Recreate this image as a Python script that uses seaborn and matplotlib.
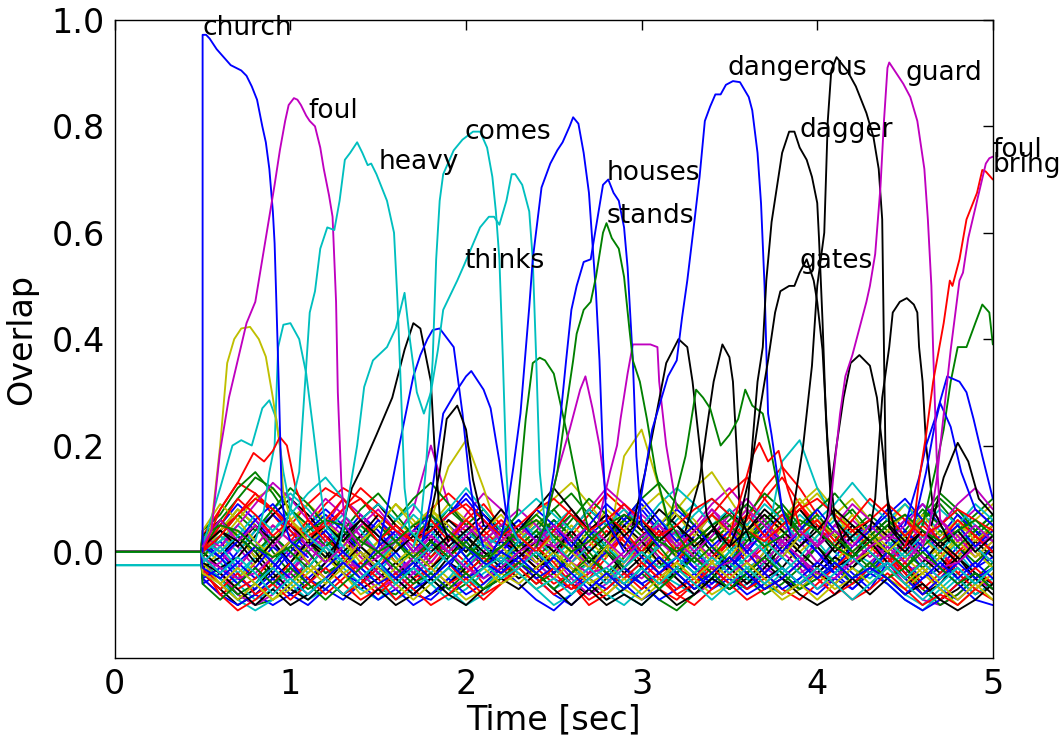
import matplotlib
matplotlib.use("Agg")
import matplotlib.pyplot as plt
import seaborn as sns

# ---------------- data ----------------
# background time grid: pre-stimulus segment then 0.1 s steps
bg_t = [0.0, 0.49, 0.5, 0.6, 0.7, 0.8, 0.9, 1.0, 1.1, 1.2, 1.3, 1.4, 1.5, 1.6, 1.7, 1.8, 1.9,
        2.0, 2.1, 2.2, 2.3, 2.4, 2.5, 2.6, 2.7, 2.8, 2.9, 3.0, 3.1, 3.2, 3.3, 3.4, 3.5, 3.6,
        3.7, 3.8, 3.9, 4.0, 4.1, 4.2, 4.3, 4.4, 4.5, 4.6, 4.7, 4.8, 4.9, 5.0]

bg01 = [0.01, 0.05, 0.09, 0.06, 0.02, -0.03, -0.05, -0.02, 0.03, 0.07, 0.04, 0.00, -0.04, -0.06, -0.03, 0.02, 0.05, 0.03, 0.00, -0.02, -0.05, -0.07, -0.04, 0.01, 0.06, 0.09, 0.05, 0.01, -0.03, -0.05, -0.02, 0.03, 0.06, 0.02, -0.02, -0.04, -0.01, 0.03, 0.05, 0.02, -0.02, -0.05, -0.03, 0.01, 0.04, 0.02]
bg02 = [-0.02, -0.05, -0.08, -0.10, -0.09, -0.06, -0.02, 0.02, 0.00, -0.04, -0.07, -0.08, -0.05, -0.01, 0.03, 0.01, -0.03, -0.01, 0.02, 0.05, 0.08, 0.04, 0.00, -0.04, -0.06, -0.03, 0.01, 0.04, 0.02, -0.02, -0.05, -0.07, -0.04, 0.00, 0.03, 0.06, 0.03, -0.01, -0.04, -0.02, 0.02, 0.06, 0.09, 0.05, 0.01, -0.03]
bg03 = [0.03, 0.08, 0.13, 0.11, 0.07, 0.03, 0.05, 0.09, 0.12, 0.10, 0.06, 0.02, -0.01, 0.02, 0.06, 0.04, 0.01, 0.03, 0.00, -0.03, -0.01, 0.03, 0.07, 0.11, 0.08, 0.04, 0.00, -0.03, -0.05, -0.02, 0.02, 0.05, 0.10, 0.14, 0.09, 0.04, 0.01, -0.02, 0.01, 0.04, 0.07, 0.03, -0.01, -0.04, -0.02, 0.01]
bg04 = [-0.04, -0.07, -0.05, -0.01, 0.04, 0.08, 0.05, 0.01, -0.03, -0.06, -0.04, 0.00, 0.04, 0.02, -0.02, -0.05, -0.07, -0.03, 0.01, 0.04, 0.02, -0.02, -0.06, -0.09, -0.07, -0.03, 0.02, 0.06, 0.09, 0.05, 0.00, -0.03, -0.01, 0.03, 0.07, 0.04, 0.00, -0.03, -0.05, -0.02, 0.03, 0.07, 0.04, 0.00, -0.04, -0.06]
bg05 = [0.00, 0.03, 0.01, -0.03, -0.06, -0.04, 0.01, 0.05, 0.10, 0.07, 0.03, -0.01, -0.04, -0.02, 0.02, 0.07, 0.11, 0.08, 0.03, 0.00, 0.03, 0.07, 0.05, 0.01, -0.03, -0.05, -0.02, 0.02, 0.05, 0.09, 0.12, 0.08, 0.03, -0.01, -0.04, -0.02, 0.02, 0.06, 0.03, -0.01, -0.04, -0.02, 0.02, 0.05, 0.08, 0.05]
bg06 = [-0.01, 0.02, 0.06, 0.10, 0.12, 0.08, 0.04, 0.00, -0.03, 0.01, 0.05, 0.09, 0.06, 0.02, -0.02, -0.05, -0.03, 0.01, 0.03, 0.07, 0.10, 0.13, 0.09, 0.05, 0.02, -0.01, 0.03, 0.08, 0.12, 0.15, 0.10, 0.05, 0.01, 0.04, 0.08, 0.11, 0.07, 0.03, 0.01, 0.04, 0.02, -0.02, 0.01, 0.05, 0.03, 0.00]
bg07 = [-0.03, -0.06, -0.09, -0.07, -0.03, 0.01, -0.02, -0.05, -0.08, -0.06, -0.02, 0.02, 0.05, 0.02, -0.02, -0.04, -0.01, 0.01, 0.04, 0.01, -0.03, -0.06, -0.08, -0.05, -0.01, 0.03, 0.06, 0.03, -0.01, -0.04, -0.07, -0.05, -0.02, 0.02, -0.01, -0.04, -0.06, -0.03, 0.01, 0.00, -0.04, -0.08, -0.06, -0.02, 0.02, -0.01]
bg08 = [0.02, 0.00, -0.04, -0.08, -0.10, -0.08, -0.05, -0.07, -0.09, -0.06, -0.03, -0.05, -0.08, -0.09, -0.06, -0.02, 0.01, 0.00, -0.02, -0.05, -0.08, -0.10, -0.07, -0.04, -0.06, -0.09, -0.07, -0.03, 0.00, -0.03, -0.06, -0.04, 0.00, -0.03, -0.06, -0.04, -0.01, -0.04, -0.07, -0.02, 0.01, -0.03, -0.07, -0.09, -0.06, -0.03]
bg09 = [0.04, 0.07, 0.12, 0.15, 0.11, 0.06, 0.02, -0.02, 0.01, 0.05, 0.02, -0.02, 0.00, 0.04, 0.08, 0.05, 0.01, -0.02, 0.01, 0.04, 0.00, -0.04, -0.02, 0.02, 0.06, 0.03, -0.01, -0.04, -0.01, 0.03, 0.06, 0.09, 0.06, 0.02, -0.02, 0.01, 0.05, 0.08, 0.04, 0.00, 0.03, 0.06, 0.10, 0.07, 0.03, 0.06]
bg10 = [-0.05, -0.08, -0.06, -0.02, 0.02, 0.05, 0.09, 0.12, 0.10, 0.06, 0.02, -0.02, -0.05, -0.03, 0.01, -0.02, -0.06, -0.03, 0.00, -0.03, -0.06, -0.04, 0.00, 0.04, 0.01, -0.03, -0.07, -0.09, -0.06, -0.02, 0.02, 0.06, 0.12, 0.16, 0.12, 0.07, 0.03, -0.01, -0.04, -0.01, -0.05, -0.08, -0.05, -0.01, 0.03, 0.00]
bg11 = [0.01, -0.02, -0.06, -0.09, -0.07, -0.03, 0.01, 0.04, 0.01, -0.03, -0.06, -0.09, -0.07, -0.04, -0.07, -0.10, -0.08, -0.04, -0.01, -0.04, -0.07, -0.05, -0.02, -0.05, -0.08, -0.10, -0.07, -0.03, 0.01, 0.04, 0.01, -0.03, -0.06, -0.08, -0.05, -0.02, 0.02, 0.00, -0.02, -0.05, -0.08, -0.10, -0.07, -0.04, -0.07, -0.05]
bg12 = [-0.02, 0.01, 0.04, 0.02, -0.02, -0.05, -0.02, 0.02, 0.06, 0.03, -0.01, 0.03, 0.08, 0.20, 0.09, 0.05, 0.02, 0.00, 0.03, 0.06, 0.03, 0.00, -0.03, 0.00, 0.04, 0.07, 0.04, 0.00, -0.03, 0.00, 0.04, 0.01, -0.03, -0.05, -0.02, 0.02, 0.05, 0.02, -0.01, 0.02, 0.06, 0.04, 0.00, -0.03, -0.06, -0.03]
bg13 = [0.00, -0.03, -0.05, -0.02, 0.02, 0.06, 0.03, -0.01, -0.04, -0.02, 0.02, 0.05, 0.02, -0.02, -0.05, -0.03, 0.01, 0.04, 0.02, 0.06, 0.04, 0.00, 0.03, 0.08, 0.05, 0.01, -0.02, 0.02, 0.05, 0.02, -0.02, -0.04, 0.00, 0.05, 0.09, 0.12, 0.08, 0.04, 0.02, 0.05, 0.09, 0.06, 0.02, -0.01, 0.02, 0.04]
bg14 = [0.03, 0.06, 0.03, -0.01, -0.05, -0.08, -0.06, -0.02, 0.03, 0.00, -0.04, -0.06, -0.03, 0.02, 0.06, 0.03, -0.01, 0.02, 0.00, -0.03, -0.01, 0.04, 0.08, 0.05, 0.01, -0.03, -0.06, -0.04, 0.00, 0.04, 0.02, -0.02, -0.05, -0.03, 0.01, 0.05, 0.03, -0.01, 0.02, 0.00, -0.03, -0.06, -0.09, -0.07, -0.04, -0.06]
bg15 = [-0.06, -0.04, 0.00, 0.04, 0.07, 0.04, 0.00, -0.04, -0.02, 0.02, 0.06, 0.03, -0.01, 0.03, 0.07, 0.10, 0.06, 0.02, -0.01, 0.02, 0.06, 0.03, -0.02, -0.05, -0.02, 0.02, 0.05, 0.08, 0.05, 0.01, -0.03, 0.00, 0.04, 0.07, 0.04, 0.00, -0.03, -0.06, -0.03, 0.02, 0.06, 0.09, 0.05, 0.01, -0.03, -0.01]
bg16 = [0.01, 0.04, 0.08, 0.05, 0.00, -0.04, -0.07, -0.05, -0.01, 0.03, 0.00, -0.04, -0.02, 0.02, 0.00, -0.04, -0.07, -0.04, 0.00, 0.03, 0.06, 0.03, -0.01, -0.04, -0.01, 0.03, 0.01, -0.03, -0.06, -0.04, 0.00, 0.04, 0.01, -0.03, -0.06, -0.03, 0.01, 0.04, 0.07, 0.04, 0.00, -0.03, 0.00, 0.04, 0.07, 0.10]
bg17 = [-0.03, -0.06, -0.03, 0.01, 0.05, 0.02, -0.02, -0.05, -0.08, -0.06, -0.03, 0.01, 0.04, 0.08, 0.11, 0.08, 0.04, 0.01, 0.03, 0.00, -0.04, -0.07, -0.05, -0.01, 0.03, 0.00, -0.04, -0.02, 0.02, 0.05, 0.02, -0.02, 0.01, 0.05, 0.08, 0.05, 0.01, -0.02, 0.00, -0.03, -0.01, 0.03, 0.00, -0.04, -0.07, -0.04]
bg18 = [0.02, -0.01, -0.04, -0.01, 0.03, 0.00, -0.04, -0.01, 0.03, 0.06, 0.03, -0.01, -0.05, -0.08, -0.05, -0.01, 0.03, 0.01, -0.02, 0.01, 0.05, 0.08, 0.04, 0.00, -0.03, 0.01, 0.05, 0.02, -0.02, -0.05, -0.08, -0.06, -0.02, 0.02, 0.05, 0.02, -0.02, -0.05, -0.02, 0.01, 0.04, 0.01, -0.02, 0.02, 0.05, 0.02]
bg19 = [-0.01, -0.04, -0.08, -0.10, -0.08, -0.04, 0.00, 0.03, 0.00, -0.04, -0.07, -0.05, -0.01, -0.04, -0.07, -0.05, -0.02, -0.04, -0.01, 0.02, -0.01, -0.05, -0.08, -0.06, -0.02, 0.02, -0.01, -0.05, -0.08, -0.06, -0.03, -0.06, -0.04, 0.00, -0.03, -0.07, -0.05, -0.01, -0.04, -0.02, -0.06, -0.09, -0.10, -0.08, -0.05, -0.07]
bg20 = [0.02, 0.05, 0.03, -0.01, 0.02, 0.06, 0.09, 0.06, 0.02, -0.01, 0.02, 0.06, 0.03, 0.06, 0.16, 0.21, 0.12, 0.02, 0.04, 0.01, -0.02, 0.01, 0.05, 0.02, -0.02, 0.01, 0.05, 0.09, 0.06, 0.02, 0.05, 0.08, 0.05, 0.01, -0.02, -0.05, -0.02, 0.02, 0.04, 0.01, -0.02, 0.02, 0.06, 0.03, 0.06, 0.09]
bg21 = [-0.04, -0.07, -0.10, -0.08, -0.05, -0.02, 0.02, 0.00, -0.04, -0.07, -0.05, -0.02, -0.05, -0.08, -0.06, -0.03, 0.00, -0.02, -0.05, -0.03, 0.00, -0.03, -0.06, -0.09, -0.07, -0.04, -0.01, -0.04, -0.07, -0.05, -0.02, 0.01, -0.02, -0.05, -0.07, -0.04, -0.01, -0.03, 0.00, -0.03, -0.06, -0.04, -0.01, -0.05, -0.08, -0.06]
bg22 = [0.00, 0.02, -0.02, -0.05, -0.03, 0.01, 0.05, 0.08, 0.05, 0.01, -0.02, -0.05, -0.03, 0.01, 0.05, 0.02, -0.02, 0.00, 0.04, 0.08, 0.05, 0.01, -0.03, 0.01, 0.05, 0.08, 0.04, 0.00, -0.03, -0.06, -0.03, 0.01, 0.05, 0.02, -0.02, -0.05, -0.03, 0.01, 0.04, 0.08, 0.04, 0.00, 0.03, 0.07, 0.04, 0.00]
bg23 = [-0.02, -0.05, -0.08, -0.06, -0.02, 0.02, 0.00, -0.04, -0.02, 0.02, 0.05, 0.02, -0.02, -0.05, -0.08, -0.06, -0.03, 0.00, -0.03, -0.06, -0.04, 0.00, 0.04, 0.01, -0.03, -0.06, -0.09, -0.11, -0.08, -0.05, -0.02, -0.05, -0.08, -0.06, -0.03, 0.01, -0.02, -0.06, -0.04, 0.00, -0.03, -0.07, -0.10, -0.08, -0.05, -0.02]
bg24 = [0.01, 0.04, 0.07, 0.11, 0.08, 0.04, 0.01, 0.04, 0.08, 0.12, 0.09, 0.05, 0.02, -0.01, 0.02, 0.06, 0.09, 0.05, 0.02, 0.05, 0.02, -0.02, 0.01, 0.05, 0.02, -0.02, -0.05, -0.02, 0.03, 0.07, 0.11, 0.14, 0.10, 0.06, 0.09, 0.05, 0.01, 0.04, 0.01, -0.02, 0.01, 0.05, 0.02, -0.02, 0.01, 0.05]
bg25 = [-0.02, -0.05, -0.09, -0.11, -0.09, -0.06, -0.09, -0.07, -0.04, -0.07, -0.09, -0.06, -0.03, -0.06, -0.09, -0.07, -0.04, -0.02, -0.04, -0.07, -0.10, -0.08, -0.05, -0.08, -0.10, -0.07, -0.04, -0.06, -0.08, -0.05, -0.02, -0.05, -0.07, -0.04, -0.07, -0.05, -0.02, -0.05, -0.03, -0.06, -0.09, -0.11, -0.08, -0.05, -0.08, -0.06]
bg26 = [0.03, 0.00, -0.03, 0.01, 0.05, 0.02, -0.02, -0.05, -0.02, 0.02, 0.00, -0.04, -0.01, 0.03, 0.00, -0.03, 0.00, 0.04, 0.02, -0.02, -0.05, -0.02, 0.02, 0.05, 0.09, 0.06, 0.02, -0.01, 0.02, -0.01, -0.04, -0.02, 0.02, 0.05, 0.02, -0.02, 0.01, 0.05, 0.02, -0.01, 0.02, -0.02, -0.05, -0.02, 0.01, -0.02]
bg27 = [-0.03, 0.00, 0.04, 0.01, -0.03, -0.06, -0.03, 0.01, 0.04, 0.01, -0.02, 0.01, 0.05, 0.08, 0.05, 0.01, -0.02, 0.01, -0.02, -0.05, -0.03, 0.01, -0.02, -0.05, -0.02, 0.02, 0.06, 0.03, -0.01, -0.04, -0.01, 0.03, 0.07, 0.04, 0.00, 0.03, 0.07, 0.10, 0.06, 0.02, -0.01, -0.04, -0.01, 0.03, 0.00, -0.03]
bg28 = [0.00, -0.03, -0.01, 0.03, 0.07, 0.10, 0.07, 0.03, 0.00, 0.03, 0.07, 0.04, 0.00, -0.03, 0.00, 0.04, 0.01, -0.02, 0.02, -0.01, -0.04, -0.01, 0.03, 0.00, -0.04, -0.01, 0.03, 0.07, 0.04, 0.00, -0.03, -0.06, -0.03, 0.01, 0.04, 0.01, -0.03, -0.01, 0.03, 0.06, 0.03, -0.01, -0.04, -0.01, -0.04, -0.07]
bg29 = [-0.05, -0.08, -0.10, -0.08, -0.05, -0.08, -0.10, -0.07, -0.04, -0.06, -0.09, -0.07, -0.10, -0.08, -0.05, -0.08, -0.06, -0.03, -0.06, -0.09, -0.11, -0.08, -0.05, -0.07, -0.04, -0.06, -0.09, -0.07, -0.04, -0.07, -0.05, -0.08, -0.06, -0.03, -0.06, -0.08, -0.05, -0.07, -0.04, -0.06, -0.09, -0.11, -0.09, -0.06, -0.09, -0.10]
bg30 = [0.02, 0.06, 0.10, 0.14, 0.12, 0.08, 0.05, 0.01, 0.04, 0.08, 0.11, 0.07, 0.03, 0.06, 0.03, -0.01, 0.02, 0.05, 0.02, -0.01, 0.02, 0.06, 0.10, 0.07, 0.03, 0.00, 0.03, -0.01, -0.04, -0.01, 0.03, 0.07, 0.11, 0.08, 0.04, 0.01, 0.04, 0.00, -0.03, 0.00, 0.04, 0.08, 0.05, 0.01, -0.02, 0.01]
bg31 = [-0.01, -0.04, -0.07, -0.05, -0.01, 0.02, 0.06, 0.03, -0.01, -0.05, -0.08, -0.05, -0.02, 0.01, -0.02, -0.06, -0.09, -0.06, -0.02, 0.01, -0.02, -0.06, -0.04, 0.00, 0.03, -0.01, -0.04, -0.07, -0.05, -0.01, 0.02, 0.00, -0.04, -0.07, -0.09, -0.06, -0.03, 0.00, 0.03, 0.00, -0.04, -0.07, -0.04, 0.00, 0.03, 0.00]
bg32 = [0.01, 0.03, 0.00, 0.04, 0.08, 0.11, 0.08, 0.04, 0.07, 0.04, 0.00, 0.03, 0.07, 0.04, 0.00, -0.03, 0.01, 0.03, 0.06, 0.03, -0.01, 0.02, 0.05, 0.01, -0.02, 0.02, 0.06, 0.03, 0.07, 0.10, 0.07, 0.03, 0.00, 0.17, 0.21, 0.12, 0.06, 0.02, 0.05, 0.02, -0.01, 0.02, 0.05, 0.08, 0.05, 0.02]
bg33 = [-0.04, -0.02, 0.02, 0.06, 0.03, -0.01, 0.02, 0.06, 0.03, -0.01, -0.04, -0.07, -0.04, 0.00, 0.03, 0.06, 0.03, -0.01, -0.03, 0.01, 0.04, 0.01, -0.03, -0.06, -0.03, 0.01, 0.04, 0.01, 0.04, 0.08, 0.05, 0.01, -0.02, 0.02, -0.01, -0.05, -0.08, -0.05, -0.02, 0.01, -0.02, 0.02, 0.06, 0.03, -0.01, 0.02]
bg34 = [0.00, 0.04, 0.08, 0.05, 0.01, -0.02, 0.01, 0.05, 0.02, -0.02, 0.01, -0.02, 0.01, 0.05, 0.09, 0.06, 0.02, -0.01, 0.01, -0.02, 0.01, 0.05, 0.02, -0.01, 0.18, 0.23, 0.12, -0.01, 0.02, -0.02, 0.01, 0.05, 0.02, 0.06, 0.10, 0.06, 0.02, -0.02, 0.00, 0.04, 0.07, 0.03, -0.01, 0.02, -0.01, 0.02]
bg35 = [-0.03, -0.01, 0.03, 0.00, -0.04, -0.07, -0.09, -0.06, -0.02, 0.01, -0.02, -0.05, -0.08, -0.05, -0.01, 0.03, 0.00, -0.03, -0.01, 0.02, 0.05, 0.02, -0.02, 0.01, 0.05, 0.02, -0.02, -0.05, -0.08, -0.05, -0.01, -0.04, -0.01, 0.03, 0.00, -0.03, 0.01, 0.05, 0.02, -0.02, -0.05, -0.02, 0.02, -0.01, -0.05, -0.08]
bg36 = [0.02, -0.01, -0.05, -0.07, -0.04, 0.00, 0.04, 0.07, 0.04, 0.00, -0.03, 0.00, 0.04, 0.07, 0.03, -0.01, -0.05, -0.02, 0.02, 0.00, -0.04, -0.01, 0.03, 0.06, 0.03, -0.01, -0.04, -0.01, 0.03, 0.07, 0.04, 0.00, -0.04, -0.01, 0.03, 0.00, -0.04, -0.07, -0.04, 0.00, 0.04, 0.01, -0.03, -0.06, -0.03, 0.01]
bg37 = [-0.01, 0.03, 0.07, 0.04, 0.08, 0.12, 0.09, 0.05, 0.02, 0.05, 0.02, 0.06, 0.10, 0.13, 0.09, 0.05, 0.08, 0.04, 0.01, 0.04, 0.08, 0.11, 0.07, 0.03, 0.06, 0.10, 0.13, 0.09, 0.05, 0.02, 0.05, 0.02, 0.06, 0.09, 0.05, 0.08, 0.11, 0.07, 0.03, 0.06, 0.03, 0.07, 0.11, 0.08, 0.04, 0.07]
bg38 = [-0.04, -0.07, -0.04, -0.08, -0.06, -0.02, -0.05, -0.08, -0.05, -0.02, -0.05, -0.09, -0.06, -0.03, -0.06, -0.04, -0.01, -0.04, -0.02, -0.05, -0.08, -0.06, -0.09, -0.07, -0.04, -0.07, -0.04, -0.08, -0.06, -0.03, -0.06, -0.09, -0.07, -0.05, -0.02, -0.05, -0.08, -0.06, -0.03, -0.05, -0.02, -0.06, -0.09, -0.06, -0.03, -0.06]
bg39 = [0.00, 0.02, 0.05, 0.02, -0.02, 0.01, 0.05, 0.02, -0.02, -0.05, -0.02, 0.02, -0.01, -0.04, 0.00, 0.04, 0.01, -0.02, 0.02, 0.05, 0.02, -0.02, 0.01, -0.02, -0.05, -0.02, 0.01, 0.04, 0.01, -0.03, 0.00, 0.03, 0.00, -0.04, -0.01, 0.03, 0.06, 0.03, 0.00, -0.03, 0.00, 0.03, 0.00, 0.04, 0.01, -0.02]
bg40 = [0.03, 0.01, 0.05, 0.09, 0.13, 0.10, 0.06, 0.10, 0.07, 0.03, 0.00, 0.04, 0.01, -0.02, 0.02, 0.05, 0.02, 0.05, 0.08, 0.05, 0.01, 0.04, 0.08, 0.12, 0.09, 0.05, 0.01, 0.04, 0.00, 0.03, 0.07, 0.10, 0.06, 0.02, 0.05, 0.01, 0.05, 0.09, 0.06, 0.03, 0.06, 0.02, 0.05, 0.09, 0.12, 0.08]
bg41 = [-0.02, -0.06, -0.09, -0.06, -0.09, -0.07, -0.04, -0.01, -0.04, -0.08, -0.06, -0.03, 0.00, -0.03, -0.06, -0.09, -0.07, -0.04, -0.06, -0.03, 0.00, -0.03, -0.06, -0.04, -0.07, -0.09, -0.06, -0.02, -0.05, -0.08, -0.06, -0.03, -0.06, -0.09, -0.07, -0.04, -0.07, -0.05, -0.02, -0.05, -0.07, -0.04, -0.07, -0.10, -0.07, -0.04]
bg42 = [0.01, 0.04, 0.01, 0.05, 0.02, -0.02, 0.02, -0.01, 0.03, 0.06, 0.09, 0.05, 0.02, 0.05, 0.01, 0.04, 0.07, 0.04, 0.00, 0.03, 0.00, 0.04, 0.00, 0.03, 0.07, 0.04, 0.08, 0.05, 0.01, 0.04, 0.08, 0.04, 0.07, 0.04, 0.01, 0.04, 0.00, 0.03, 0.06, 0.03, 0.00, 0.04, 0.01, -0.02, 0.02, 0.05]
bg43 = [-0.05, -0.03, -0.06, -0.03, 0.01, -0.02, -0.06, -0.03, 0.00, -0.03, -0.06, -0.04, -0.07, -0.05, -0.02, -0.05, -0.03, 0.00, -0.02, -0.05, -0.03, -0.06, -0.03, 0.00, -0.03, -0.06, -0.04, -0.01, -0.04, -0.07, -0.04, -0.07, -0.04, -0.07, -0.05, -0.02, -0.04, -0.01, -0.04, -0.02, -0.05, -0.08, -0.05, -0.02, -0.05, -0.03]
bg44 = [0.00, 0.06, 0.03, 0.00, 0.03, 0.00, -0.03, 0.01, 0.04, 0.01, 0.05, 0.02, -0.01, 0.02, -0.01, 0.02, -0.02, 0.01, 0.04, 0.07, 0.04, 0.07, 0.03, 0.00, -0.03, 0.00, -0.03, 0.01, -0.02, 0.01, -0.02, 0.02, 0.05, 0.08, 0.04, 0.07, 0.03, 0.00, 0.03, 0.00, -0.03, 0.01, 0.04, 0.01, 0.04, 0.07]
bg45 = [-0.03, -0.08, -0.11, -0.09, -0.06, -0.09, -0.06, -0.03, -0.06, -0.09, -0.07, -0.04, -0.07, -0.10, -0.08, -0.05, -0.08, -0.06, -0.03, -0.06, -0.03, -0.06, -0.10, -0.08, -0.05, -0.02, -0.05, -0.08, -0.10, -0.07, -0.04, -0.07, -0.05, -0.08, -0.06, -0.03, -0.06, -0.09, -0.07, -0.04, -0.07, -0.10, -0.08, -0.10, -0.07, -0.09]
bg46 = [0.02, 0.00, 0.03, 0.07, 0.04, 0.07, 0.11, 0.14, 0.10, 0.06, 0.09, 0.06, 0.09, 0.05, 0.08, 0.12, 0.08, 0.04, 0.07, 0.10, 0.07, 0.04, 0.08, 0.05, 0.08, 0.05, 0.09, 0.12, 0.09, 0.05, 0.08, 0.05, 0.09, 0.06, 0.02, 0.06, 0.09, 0.13, 0.09, 0.06, 0.09, 0.05, 0.08, 0.05, 0.09, 0.06]
bg47 = [-0.01, -0.03, -0.05, -0.04, -0.01, 0.02, 0.03, 0.01, -0.02, -0.03, -0.01, 0.02, 0.04, 0.03, 0.00, -0.03, -0.05, -0.03, 0.00, 0.02, 0.01, -0.02, -0.04, -0.03, 0.00, 0.03, 0.05, 0.02, -0.01, -0.03, -0.02, 0.01, 0.03, 0.02, -0.01, -0.04, -0.05, -0.02, 0.01, 0.03, 0.02, -0.01, -0.03, -0.02, 0.01, 0.03]
bg48 = [0.04, 0.09, 0.06, 0.02, -0.01, 0.02, -0.02, -0.05, -0.02, 0.02, 0.05, 0.09, 0.05, 0.08, 0.04, 0.00, 0.04, 0.07, 0.03, 0.00, 0.03, 0.00, -0.03, 0.01, 0.04, 0.08, 0.11, 0.07, 0.03, 0.07, 0.03, -0.01, 0.02, -0.01, 0.03, 0.06, 0.03, 0.07, 0.03, 0.00, 0.03, 0.07, 0.03, 0.06, 0.02, 0.05]
bg49 = [-0.02, -0.04, -0.07, -0.10, -0.07, -0.10, -0.08, -0.05, -0.08, -0.10, -0.07, -0.10, -0.08, -0.05, -0.08, -0.10, -0.07, -0.05, -0.07, -0.04, -0.07, -0.10, -0.07, -0.10, -0.08, -0.10, -0.07, -0.10, -0.08, -0.05, -0.07, -0.04, -0.07, -0.05, -0.08, -0.10, -0.08, -0.05, -0.08, -0.05, -0.08, -0.06, -0.09, -0.11, -0.09, -0.06]
bg50 = [0.01, -0.01, 0.02, 0.06, 0.09, 0.05, 0.01, 0.04, 0.00, -0.03, 0.01, 0.04, 0.00, 0.04, 0.07, 0.11, 0.07, 0.03, 0.06, 0.02, 0.05, 0.01, 0.05, 0.09, 0.06, 0.10, 0.06, 0.02, 0.05, 0.01, 0.04, 0.00, 0.04, 0.00, 0.04, 0.08, 0.04, 0.01, 0.04, 0.07, 0.10, 0.06, 0.02, 0.05, 0.01, 0.04]
bg51 = [-0.06, -0.09, -0.06, -0.03, -0.06, -0.03, -0.06, -0.09, -0.06, -0.03, 0.00, -0.03, -0.06, -0.04, -0.07, -0.04, -0.07, -0.05, -0.02, -0.04, -0.07, -0.04, -0.01, -0.04, -0.07, -0.04, -0.07, -0.04, -0.01, -0.04, -0.07, -0.04, -0.01, -0.04, -0.07, -0.05, -0.02, -0.05, -0.02, -0.05, -0.03, 0.00, -0.03, -0.06, -0.04, -0.07]
bg52 = [0.00, 0.05, 0.10, 0.07, 0.03, 0.06, 0.02, 0.06, 0.10, 0.06, 0.02, 0.05, 0.02, 0.06, 0.02, 0.06, 0.03, 0.06, 0.03, 0.00, 0.04, 0.08, 0.04, 0.07, 0.04, 0.00, 0.04, 0.00, 0.04, 0.07, 0.04, 0.07, 0.03, 0.07, 0.03, 0.06, 0.02, 0.06, 0.10, 0.07, 0.03, 0.06, 0.02, 0.06, 0.03, 0.00]
bg53 = [-0.02, 0.01, -0.03, -0.06, -0.03, -0.06, -0.03, 0.01, -0.02, -0.05, -0.02, -0.05, -0.02, 0.01, -0.02, 0.01, -0.02, -0.05, -0.03, 0.00, -0.03, -0.06, -0.03, -0.06, -0.03, 0.00, -0.03, -0.01, -0.04, -0.01, -0.04, -0.01, 0.02, -0.01, -0.04, -0.07, -0.04, -0.01, -0.04, -0.02, -0.05, -0.02, -0.05, -0.03, -0.06, -0.03]
bg54 = [0.02, 0.06, 0.02, 0.05, 0.01, 0.05, 0.01, -0.02, 0.01, 0.05, 0.08, 0.04, 0.00, 0.03, 0.00, 0.03, 0.06, 0.02, 0.05, 0.02, 0.05, 0.02, 0.05, 0.02, -0.01, 0.02, 0.05, 0.01, 0.04, 0.08, 0.04, 0.08, 0.05, 0.01, 0.04, 0.01, 0.04, 0.01, 0.05, 0.02, 0.05, 0.09, 0.06, 0.02, 0.05, 0.02]
bg55 = [-0.04, -0.06, -0.03, -0.06, -0.09, -0.06, -0.03, -0.06, -0.03, 0.00, -0.03, -0.06, -0.09, -0.06, -0.03, -0.06, -0.03, -0.06, -0.04, -0.07, -0.05, -0.02, -0.05, -0.08, -0.05, -0.08, -0.05, -0.02, -0.05, -0.02, -0.05, -0.02, -0.05, -0.08, -0.06, -0.09, -0.06, -0.03, -0.06, -0.03, -0.06, -0.03, -0.06, -0.09, -0.06, -0.09]
bg56 = [0.01, 0.04, 0.02, -0.02, 0.02, 0.05, 0.02, 0.05, 0.02, 0.06, 0.03, 0.00, 0.03, 0.00, 0.03, 0.00, 0.04, 0.08, 0.04, 0.08, 0.12, 0.08, 0.04, 0.07, 0.03, 0.06, 0.02, 0.05, 0.02, 0.05, 0.01, 0.04, 0.08, 0.05, 0.08, 0.04, 0.08, 0.05, 0.02, 0.05, 0.01, 0.04, 0.01, 0.04, 0.00, 0.03]
bg57 = [-0.03, -0.05, -0.02, 0.01, -0.02, -0.05, -0.08, -0.05, -0.02, -0.05, -0.02, -0.05, -0.02, -0.05, -0.02, 0.01, -0.02, -0.04, -0.01, -0.04, -0.01, -0.04, -0.07, -0.04, -0.07, -0.04, -0.01, -0.04, -0.07, -0.04, -0.01, -0.04, -0.07, -0.05, -0.02, -0.05, -0.02, -0.05, -0.03, -0.05, -0.08, -0.05, -0.02, -0.05, -0.02, -0.05]
bg58 = [0.00, 0.03, 0.07, 0.10, 0.08, 0.05, 0.03, 0.05, 0.08, 0.10, 0.07, 0.04, 0.02, 0.04, 0.07, 0.09, 0.06, 0.03, 0.05, 0.08, 0.10, 0.07, 0.04, 0.06, 0.09, 0.06, 0.03, 0.05, 0.08, 0.10, 0.07, 0.04, 0.02, 0.05, 0.08, 0.10, 0.07, 0.04, 0.06, 0.09, 0.06, 0.03, 0.05, 0.08, 0.06, 0.04]
bg59 = [-0.01, -0.04, -0.01, -0.04, -0.08, -0.05, -0.08, -0.05, -0.08, -0.05, -0.02, -0.06, -0.03, -0.06, -0.03, -0.06, -0.03, -0.01, -0.04, -0.07, -0.05, -0.08, -0.05, -0.03, -0.06, -0.03, -0.06, -0.03, -0.06, -0.09, -0.06, -0.03, -0.06, -0.03, -0.06, -0.03, -0.06, -0.09, -0.06, -0.03, -0.06, -0.09, -0.06, -0.03, -0.06, -0.03]
bg60 = [0.03, 0.05, 0.04, 0.01, -0.01, 0.01, 0.04, 0.06, 0.05, 0.02, 0.00, 0.02, 0.05, 0.07, 0.04, 0.01, -0.01, 0.01, 0.04, 0.06, 0.03, 0.00, 0.02, 0.05, 0.07, 0.05, 0.02, 0.00, 0.02, 0.05, 0.07, 0.04, 0.01, 0.03, 0.06, 0.04, 0.01, -0.01, 0.02, 0.05, 0.07, 0.04, 0.02, 0.04, 0.06, 0.03]

background = [bg01, bg02, bg03, bg04, bg05, bg06, bg07, bg08, bg09, bg10, bg11, bg12,
              bg13, bg14, bg15, bg16, bg17, bg18, bg19, bg20, bg21, bg22, bg23, bg24,
              bg25, bg26, bg27, bg28, bg29, bg30, bg31, bg32, bg33, bg34, bg35, bg36,
              bg37, bg38, bg39, bg40, bg41, bg42, bg43, bg44, bg45, bg46, bg47, bg48,
              bg49, bg50, bg51, bg52, bg53, bg54, bg55, bg56, bg57, bg58, bg59, bg60]
bg_pre = [0.0, 0.0, 0.0, -0.025, 0.0, 0.0, 0.0, 0.0, 0.0, 0.0, -0.025, 0.0,
          0.0, 0.0, 0.0, 0.0, 0.0, 0.0, 0.0, 0.0, 0.0, 0.0, 0.0, 0.0,
          -0.025, 0.0, 0.0, 0.0, 0.0, 0.0, 0.0, 0.0, 0.0, 0.0, 0.0, 0.0,
          0.0, 0.0, 0.0, 0.0, 0.0, 0.0, 0.0, 0.0, 0.0, 0.0, 0.0, 0.0,
          0.0, 0.0, 0.0, 0.0, 0.0, 0.0, 0.0, 0.0, 0.0, 0.0, 0.0, 0.0]
bg_colors = ["b", "g", "r", "c", "m", "y", "k"] * 8 + ["b", "r", "c", "g"]

# medium bumps (unlabelled words)
cyan43_t = [0.80, 0.85, 0.88, 0.91, 0.93, 0.96, 1.00, 1.05, 1.09, 1.13, 1.17, 1.20, 1.30]
cyan43_v = [0.02, 0.08, 0.15, 0.20, 0.385, 0.427, 0.43, 0.40, 0.335, 0.23, 0.12, 0.05, 0.01]
cyan29_t = [0.50, 0.60, 0.67, 0.72, 0.78, 0.84, 0.88, 0.92, 0.96, 1.00, 1.10, 1.20]
cyan29_v = [0.01, 0.12, 0.20, 0.21, 0.20, 0.27, 0.285, 0.25, 0.15, 0.08, 0.03, 0.00]
yellow42_t = [0.50, 0.55, 0.60, 0.64, 0.68, 0.72, 0.77, 0.82, 0.86, 0.90, 0.94, 0.96, 1.00, 1.10]
yellow42_v = [0.00, 0.05, 0.20, 0.355, 0.40, 0.42, 0.423, 0.40, 0.367, 0.29, 0.20, 0.11, 0.06, 0.02]
red22_t = [0.50, 0.60, 0.70, 0.79, 0.85, 0.90, 0.94, 0.98, 1.03, 1.10, 1.20]
red22_v = [0.00, 0.08, 0.13, 0.186, 0.17, 0.19, 0.216, 0.20, 0.12, 0.06, 0.02]
black43_t = [1.25, 1.30, 1.35, 1.41, 1.49, 1.58, 1.65, 1.70, 1.74, 1.77, 1.80, 1.82, 1.85, 1.90]
black43_v = [0.00, 0.05, 0.12, 0.16, 0.22, 0.29, 0.38, 0.43, 0.42, 0.37, 0.32, 0.20, 0.07, 0.02]
blue42_t = [1.50, 1.55, 1.62, 1.70, 1.74, 1.78, 1.81, 1.85, 1.93, 1.98, 2.02, 2.06, 2.10]
blue42_v = [0.01, 0.08, 0.20, 0.33, 0.37, 0.40, 0.417, 0.42, 0.385, 0.26, 0.135, 0.05, 0.01]
blue34_t = [1.75, 1.80, 1.87, 1.95, 2.00, 2.03, 2.10, 2.14, 2.19, 2.23, 2.30]
blue34_v = [0.02, 0.10, 0.26, 0.305, 0.33, 0.34, 0.305, 0.27, 0.17, 0.07, 0.02]
black28_t = [1.78, 1.85, 1.89, 1.95, 2.00, 2.04, 2.10]
black28_v = [0.04, 0.15, 0.25, 0.275, 0.23, 0.135, 0.05]
green37_t = [2.20, 2.29, 2.34, 2.38, 2.42, 2.45, 2.50, 2.55, 2.59, 2.65, 2.70]
green37_v = [0.03, 0.07, 0.25, 0.355, 0.365, 0.36, 0.335, 0.26, 0.20, 0.10, 0.04]
magenta33_t = [2.45, 2.52, 2.59, 2.65, 2.68, 2.72, 2.76, 2.80]
magenta33_v = [0.05, 0.15, 0.23, 0.305, 0.33, 0.27, 0.20, 0.10]
magenta39_t = [2.75, 2.82, 2.86, 2.88, 2.92, 2.95, 3.00, 3.05, 3.09, 3.10, 3.14, 3.20]
magenta39_v = [0.05, 0.15, 0.20, 0.25, 0.335, 0.39, 0.39, 0.39, 0.385, 0.32, 0.20, 0.08]
black40_t = [2.95, 3.02, 3.07, 3.14, 3.21, 3.26, 3.29, 3.33, 3.37, 3.45]
black40_v = [0.05, 0.15, 0.235, 0.355, 0.40, 0.385, 0.32, 0.20, 0.07, 0.02]
black39_t = [3.25, 3.33, 3.37, 3.41, 3.46, 3.50, 3.52, 3.54, 3.56, 3.62]
black39_v = [0.04, 0.135, 0.23, 0.32, 0.39, 0.366, 0.32, 0.20, 0.07, 0.02]
green31_t = [3.15, 3.25, 3.31, 3.35, 3.39, 3.45, 3.50, 3.55, 3.59, 3.63, 3.69, 3.73, 3.80, 3.90]
green31_v = [0.05, 0.18, 0.305, 0.29, 0.27, 0.20, 0.22, 0.25, 0.305, 0.275, 0.26, 0.20, 0.08, 0.03]
red21_t = [3.50, 3.58, 3.63, 3.67, 3.72, 3.78, 3.83, 3.90]
red21_v = [0.03, 0.12, 0.18, 0.205, 0.17, 0.19, 0.12, 0.05]
black37_t = [4.05, 4.11, 4.15, 4.19, 4.24, 4.30, 4.34, 4.37, 4.40, 4.45]
black37_v = [0.05, 0.20, 0.29, 0.355, 0.37, 0.35, 0.29, 0.20, 0.10, 0.03]
black48_t = [4.30, 4.33, 4.37, 4.41, 4.43, 4.47, 4.51, 4.55, 4.57, 4.58, 4.60, 4.62, 4.66, 4.75]
black48_v = [0.04, 0.10, 0.29, 0.385, 0.45, 0.47, 0.477, 0.465, 0.45, 0.385, 0.32, 0.20, 0.08, 0.02]
peak93_t = [3.85, 3.92, 3.97, 4.00, 4.04, 4.06, 4.08, 4.11, 4.17, 4.22, 4.28, 4.32, 4.35, 4.37, 4.38, 4.39, 4.41, 4.50]
peak93_v = [0.05, 0.20, 0.35, 0.50, 0.60, 0.81, 0.905, 0.93, 0.905, 0.875, 0.825, 0.78, 0.72, 0.625, 0.38, 0.15, 0.05, 0.02]
green46_t = [4.60, 4.67, 4.72, 4.76, 4.80, 4.85, 4.90, 4.94, 4.98, 5.00]
green46_v = [0.05, 0.15, 0.23, 0.32, 0.385, 0.385, 0.43, 0.465, 0.45, 0.39]
blue33_t = [4.50, 4.58, 4.62, 4.68, 4.74, 4.81, 4.85, 4.89, 4.94, 5.00]
blue33_v = [0.05, 0.14, 0.20, 0.26, 0.33, 0.32, 0.30, 0.25, 0.18, 0.10]
blue28_t = [4.55, 4.62, 4.67, 4.70, 4.76, 4.82, 4.90, 5.00]
blue28_v = [0.05, 0.15, 0.24, 0.28, 0.235, 0.15, 0.08, 0.05]
black21_t = [4.65, 4.72, 4.80, 4.86, 4.92, 5.00]
black21_v = [0.05, 0.14, 0.205, 0.17, 0.10, 0.07]

# labelled words
church_t = [0.50, 0.50, 0.52, 0.54, 0.58, 0.62, 0.66, 0.72, 0.75, 0.78, 0.81, 0.84, 0.86, 0.88, 0.90, 0.91, 0.92, 0.935, 0.95, 0.97, 1.00, 1.10]
church_v = [0.00, 0.972, 0.972, 0.965, 0.945, 0.93, 0.915, 0.905, 0.895, 0.875, 0.85, 0.80, 0.77, 0.72, 0.64, 0.58, 0.47, 0.30, 0.11, 0.05, 0.02, -0.01]
foul1_t = [0.50, 0.55, 0.60, 0.65, 0.70, 0.75, 0.80, 0.84, 0.88, 0.91, 0.94, 0.97, 0.99, 1.02, 1.04, 1.06, 1.09, 1.11, 1.14, 1.17, 1.19, 1.22, 1.24, 1.26, 1.27, 1.29, 1.31, 1.40]
foul1_v = [0.01, 0.04, 0.19, 0.29, 0.36, 0.43, 0.47, 0.55, 0.63, 0.69, 0.755, 0.81, 0.84, 0.853, 0.85, 0.84, 0.82, 0.81, 0.80, 0.76, 0.72, 0.67, 0.63, 0.47, 0.30, 0.13, 0.05, 0.01]
heavy_t = [0.95, 1.00, 1.05, 1.08, 1.11, 1.14, 1.17, 1.21, 1.25, 1.28, 1.31, 1.34, 1.38, 1.41, 1.44, 1.46, 1.49, 1.55, 1.59, 1.61, 1.63, 1.65, 1.68, 1.80]
heavy_v = [0.03, 0.08, 0.15, 0.30, 0.45, 0.49, 0.57, 0.61, 0.605, 0.66, 0.737, 0.75, 0.77, 0.75, 0.727, 0.73, 0.71, 0.66, 0.60, 0.47, 0.30, 0.12, 0.04, 0.00]
comes_t = [1.70, 1.74, 1.77, 1.79, 1.81, 1.83, 1.85, 1.87, 1.93, 1.98, 2.04, 2.08, 2.12, 2.15, 2.17, 2.19, 2.21, 2.23, 2.25, 2.30]
comes_v = [0.01, 0.05, 0.15, 0.25, 0.36, 0.55, 0.66, 0.71, 0.755, 0.775, 0.79, 0.79, 0.76, 0.705, 0.64, 0.55, 0.36, 0.15, 0.05, 0.02]
thinks_t = [1.28, 1.33, 1.38, 1.42, 1.47, 1.55, 1.60, 1.65, 1.68, 1.72, 1.76, 1.80, 1.84, 1.87, 1.95, 1.99, 2.08, 2.13, 2.16, 2.19, 2.23, 2.26, 2.28, 2.32, 2.36, 2.38, 2.40, 2.42, 2.45, 2.50]
thinks_v = [0.01, 0.10, 0.20, 0.31, 0.36, 0.385, 0.42, 0.487, 0.40, 0.30, 0.26, 0.30, 0.38, 0.455, 0.51, 0.54, 0.61, 0.63, 0.63, 0.615, 0.66, 0.71, 0.71, 0.69, 0.64, 0.55, 0.36, 0.15, 0.05, 0.02]
blue82_t = [2.15, 2.20, 2.23, 2.27, 2.31, 2.335, 2.36, 2.38, 2.43, 2.48, 2.52, 2.55, 2.59, 2.61, 2.64, 2.67, 2.70, 2.72, 2.74, 2.76, 2.78, 2.80, 2.90]
blue82_v = [0.00, 0.03, 0.07, 0.16, 0.26, 0.36, 0.46, 0.55, 0.685, 0.73, 0.755, 0.77, 0.80, 0.817, 0.805, 0.75, 0.675, 0.58, 0.487, 0.36, 0.18, 0.06, 0.00]
houses_t = [2.40, 2.45, 2.50, 2.54, 2.57, 2.60, 2.63, 2.67, 2.71, 2.73, 2.76, 2.78, 2.81, 2.84, 2.87, 2.90, 2.92, 2.95, 2.97, 3.00, 3.10]
houses_v = [0.01, 0.05, 0.15, 0.26, 0.36, 0.455, 0.50, 0.545, 0.55, 0.59, 0.65, 0.69, 0.70, 0.675, 0.66, 0.61, 0.535, 0.36, 0.18, 0.05, 0.01]
stands_t = [2.40, 2.45, 2.52, 2.57, 2.61, 2.63, 2.67, 2.71, 2.74, 2.78, 2.80, 2.83, 2.87, 2.90, 2.93, 2.95, 2.99, 3.03, 3.08, 3.15, 3.25]
stands_v = [0.01, 0.05, 0.15, 0.27, 0.36, 0.41, 0.455, 0.47, 0.517, 0.60, 0.618, 0.59, 0.57, 0.517, 0.42, 0.36, 0.32, 0.25, 0.15, 0.06, 0.01]
dangerous_t = [2.90, 2.97, 3.06, 3.15, 3.20, 3.23, 3.26, 3.30, 3.33, 3.36, 3.39, 3.42, 3.45, 3.48, 3.52, 3.56, 3.61, 3.63, 3.66, 3.68, 3.70, 3.71, 3.72, 3.74, 3.77, 3.80, 3.85]
dangerous_v = [0.01, 0.05, 0.23, 0.33, 0.36, 0.44, 0.51, 0.62, 0.705, 0.81, 0.837, 0.86, 0.86, 0.878, 0.885, 0.883, 0.855, 0.83, 0.75, 0.655, 0.50, 0.38, 0.26, 0.22, 0.15, 0.08, 0.03]
dagger_t = [3.55, 3.60, 3.63, 3.66, 3.69, 3.71, 3.74, 3.77, 3.80, 3.84, 3.87, 3.90, 3.94, 3.97, 4.00, 4.01, 4.03, 4.05, 4.08, 4.15]
dagger_v = [0.01, 0.07, 0.20, 0.32, 0.385, 0.51, 0.62, 0.685, 0.75, 0.79, 0.79, 0.76, 0.737, 0.705, 0.656, 0.59, 0.435, 0.25, 0.08, 0.02]
gates_t = [3.50, 3.55, 3.62, 3.68, 3.72, 3.76, 3.79, 3.84, 3.87, 3.90, 3.94, 3.98, 4.00, 4.03, 4.06, 4.10, 4.20]
gates_v = [0.01, 0.05, 0.15, 0.28, 0.36, 0.45, 0.49, 0.50, 0.50, 0.525, 0.55, 0.51, 0.47, 0.38, 0.20, 0.06, 0.02]
guard_t = [4.00, 4.07, 4.09, 4.13, 4.16, 4.20, 4.24, 4.28, 4.30, 4.33, 4.36, 4.38, 4.40, 4.41, 4.45, 4.49, 4.53, 4.57, 4.61, 4.63, 4.65, 4.66, 4.68, 4.70, 4.80]
guard_v = [0.01, 0.07, 0.135, 0.26, 0.33, 0.37, 0.42, 0.47, 0.50, 0.56, 0.686, 0.81, 0.91, 0.92, 0.90, 0.88, 0.855, 0.81, 0.72, 0.625, 0.50, 0.38, 0.18, 0.06, 0.02]
bring_t = [4.50, 4.55, 4.58, 4.62, 4.66, 4.72, 4.755, 4.77, 4.81, 4.85, 4.91, 4.94, 4.96, 5.00]
bring_v = [0.01, 0.05, 0.135, 0.22, 0.32, 0.43, 0.51, 0.50, 0.55, 0.625, 0.675, 0.718, 0.715, 0.70]
foul2_t = [4.60, 4.64, 4.68, 4.74, 4.76, 4.81, 4.83, 4.86, 4.91, 4.96, 4.98, 5.00]
foul2_v = [0.01, 0.05, 0.135, 0.32, 0.38, 0.51, 0.525, 0.59, 0.66, 0.73, 0.74, 0.743]

medium = [(cyan43_t, cyan43_v, "c"), (cyan29_t, cyan29_v, "c"), (yellow42_t, yellow42_v, "y"),
          (red22_t, red22_v, "r"), (black43_t, black43_v, "k"), (blue42_t, blue42_v, "b"),
          (blue34_t, blue34_v, "b"), (black28_t, black28_v, "k"), (green37_t, green37_v, "g"),
          (magenta33_t, magenta33_v, "m"), (magenta39_t, magenta39_v, "m"), (black40_t, black40_v, "k"),
          (black39_t, black39_v, "k"), (green31_t, green31_v, "g"), (red21_t, red21_v, "r"),
          (black37_t, black37_v, "k"), (black48_t, black48_v, "k"), (peak93_t, peak93_v, "k"),
          (green46_t, green46_v, "g"), (blue33_t, blue33_v, "b"), (blue28_t, blue28_v, "b"),
          (black21_t, black21_v, "k")]
featured = [(church_t, church_v, "b"), (foul1_t, foul1_v, "m"), (heavy_t, heavy_v, "c"),
            (comes_t, comes_v, "c"), (thinks_t, thinks_v, "c"), (blue82_t, blue82_v, "b"),
            (houses_t, houses_v, "b"), (stands_t, stands_v, "g"), (dangerous_t, dangerous_v, "b"),
            (dagger_t, dagger_v, "k"), (gates_t, gates_v, "k"), (guard_t, guard_v, "m"),
            (bring_t, bring_v, "r"), (foul2_t, foul2_v, "m")]

label_words = ["church", "foul", "heavy", "comes", "thinks", "houses", "stands",
               "dangerous", "dagger", "gates", "guard", "foul", "bring"]
label_t = [0.50, 1.10, 1.50, 1.99, 1.99, 2.80, 2.80, 3.49, 3.90, 3.90, 4.50, 5.00, 5.00]
label_v = [0.972, 0.816, 0.72, 0.776, 0.534, 0.70, 0.618, 0.897, 0.78, 0.534, 0.887, 0.742, 0.714]

x_ticks = [0, 1, 2, 3, 4, 5]
y_ticks = [0.0, 0.2, 0.4, 0.6, 0.8, 1.0]
y_tick_labels = ["0.0", "0.2", "0.4", "0.6", "0.8", "1.0"]

# ---------------- style ----------------
sns.set_style("white")
plt.rcParams.update({
    "font.family": ["DejaVu Sans"],
    "axes.edgecolor": "black",
    "axes.labelcolor": "black",
    "axes.linewidth": 1.0,
    "text.color": "black",
    "xtick.direction": "in",
    "ytick.direction": "in",
    "xtick.top": True,
    "ytick.right": True,
    "xtick.major.size": 7,
    "ytick.major.size": 7,
    "xtick.major.width": 1.0,
    "ytick.major.width": 1.0,
    "xtick.color": "black",
    "ytick.color": "black",
    "xtick.labelcolor": "black",
    "ytick.labelcolor": "black",
})

CLASSIC = {"b": (0, 0, 1), "g": (0, 0.5, 0), "r": (1, 0, 0), "c": (0, 0.75, 0.75),
           "m": (0.75, 0, 0.75), "y": (0.75, 0.75, 0), "k": (0, 0, 0)}
LW = 1.35

fig = plt.figure(figsize=(10.63, 7.38), dpi=100)
ax = fig.add_axes([0.108, 0.108, 0.826, 0.865])

for row, pre, col in zip(background, bg_pre, bg_colors):
    assert len(row) == len(bg_t) - 2
    sns.lineplot(x=bg_t, y=[pre, pre] + row, color=CLASSIC[col], linewidth=LW,
                 estimator=None, sort=False, ax=ax, legend=False)

for t, v, col in medium + featured:
    assert len(t) == len(v)
    sns.lineplot(x=t, y=v, color=CLASSIC[col], linewidth=LW,
                 estimator=None, sort=False, ax=ax, legend=False)

for w, tx, ty in zip(label_words, label_t, label_v):
    ax.text(tx, ty, w, fontsize=19, color="black", ha="left", va="baseline", clip_on=False)

ax.set_xlim(0, 5)
ax.set_ylim(-0.2, 1.0)
ax.set_xticks(x_ticks)
ax.set_xticklabels([str(x) for x in x_ticks])
ax.set_yticks(y_ticks)
ax.set_yticklabels(y_tick_labels)
ax.tick_params(labelsize=24, pad=7, labelcolor="black")
ax.set_xlabel("Time [sec]", fontsize=24, labelpad=2, color="black")
ax.set_ylabel("Overlap", fontsize=24, labelpad=10, color="black")
for s in ax.spines.values():
    s.set_visible(True)
    s.set_color("black")

fig.savefig("out.png", dpi=100)
